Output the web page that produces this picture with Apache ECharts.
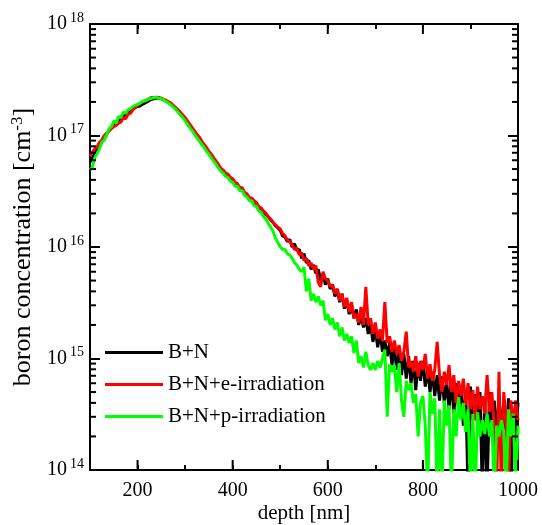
<!DOCTYPE html>
<html>
<head>
<meta charset="utf-8">
<script src="https://cdn.jsdelivr.net/npm/echarts@6/dist/echarts.min.js"></script>
<style>html,body{margin:0;padding:0;background:#fff}#c{width:542px;height:525px}</style>
</head>
<body>
<div id="c"></div>
<script>
const depth = [100,105,110,115,120,125,130,135,140,145,150,155,160,165,170,175,180,185,190,195,200,205,210,215,220,225,230,235,240,245,250,255,260,265,270,275,280,285,290,295,300,305,310,315,320,325,330,335,340,345,350,355,360,365,370,375,380,385,390,395,400,405,410,415,420,425,430,435,440,445,450,455,460,465,470,475,480,485,490,495,500,505,510,515,520,525,530,535,540,545,550,555,560,565,570,575,580,585,590,595,600,605,610,615,620,625,630,635,640,645,650,655,660,665,670,675,680,685,690,695,700,705,710,715,720,725,730,735,740,745,750,755,760,765,770,775,780,785,790,795,800,805,810,815,820,825,830,835,840,845,850,855,860,865,870,875,880,885,890,895,900,905,910,915,920,925,930,935,940,945,950,955,960,965,970,975,980,985,990,995,1000];

const bn = [5.8e16,6.3e16,6.9e16,7.4e16,8.1e16,8.9e16,9.5e16,1.02e17,1.12e17,1.17e17,
1.26e17,1.32e17,1.38e17,1.41e17,1.48e17,1.55e17,1.58e17,1.66e17,1.74e17,1.78e17,
1.82e17,1.84e17,1.90e17,1.95e17,2.0e17,2.07e17,2.11e17,2.14e17,2.16e17,2.16e17,
2.14e17,2.09e17,2.04e17,2.0e17,1.93e17,1.84e17,1.76e17,1.68e17,1.58e17,1.50e17,
1.41e17,1.32e17,1.23e17,1.15e17,1.07e17,1.0e17,9.4e16,8.7e16,8.1e16,7.6e16,
7.1e16,6.6e16,6.2e16,5.8e16,5.4e16,5.0e16,4.8e16,4.6e16,4.4e16,4.2e16,
4.0e16,3.7e16,3.6e16,3.4e16,3.3e16,3.0e16,2.95e16,2.75e16,2.7e16,2.5e16,
2.45e16,2.24e16,2.2e16,2.05e16,1.95e16,1.86e16,1.74e16,1.66e16,1.55e16,1.48e16,
1.41e16,1.26e16,1.23e16,1.12e16,1.17e16,1.0e16,1.07e16,9.3e15,9.5e15,7.9e15,
8.7e15,7.2e15,7.6e15,6.3e15,6.9e15,5.8e15,6.3e15,5.0e15,5.8e15,4.6e15,
5.2e15,4.2e15,4.6e15,3.6e15,4.2e15,3.2e15,3.8e15,2.8e15,3.3e15,2.5e15,
3.0e15,2.3e15,2.75e15,2.0e15,2.4e15,1.9e15,2.3e15,1.66e15,2.0e15,1.41e15,
1.82e15,1.26e15,1.74e15,1.15e15,1.45e15,1.05e15,1.38e15,8.7e14,1.26e15,7.9e14,
1.15e15,7.1e14,1.10e15,6.6e14,1.05e15,6.0e14,9.5e14,5.2e14,9.1e14,6.3e14,
9.5e14,5.6e14,7.9e14,5.0e14,7.6e14,4.6e14,7.1e14,4.2e14,6.9e14,4.0e14,
6.3e14,3.5e14,6.6e14,3.2e14,6.0e14,3.5e14,5.6e14,2.5e14,5.2e14,6.3e13,
5.6e14,2.8e14,4.8e14,2.5e14,5.0e14,6.3e13,4.5e14,6.3e13,5.0e14,2.2e14,
4.2e14,2.0e14,4.6e14,2.2e14,4.0e14,2.0e14,4.4e14,6.3e13,3.5e14,1.8e14,
4.0e14];

const bnE = [6.5e16,7.1e16,7.6e16,7.9e16,8.7e16,9.1e16,1.0e17,1.05e17,1.10e17,1.15e17,
1.20e17,1.23e17,1.29e17,1.32e17,1.45e17,1.41e17,1.55e17,1.58e17,1.70e17,1.78e17,
1.86e17,1.93e17,2.0e17,2.04e17,2.09e17,2.16e17,2.19e17,2.19e17,2.21e17,2.19e17,
2.16e17,2.11e17,2.07e17,2.0e17,1.95e17,1.86e17,1.78e17,1.70e17,1.62e17,1.53e17,
1.45e17,1.35e17,1.26e17,1.17e17,1.10e17,1.02e17,9.7e16,8.9e16,8.3e16,7.8e16,
7.2e16,6.8e16,6.3e16,5.9e16,5.5e16,5.1e16,4.9e16,4.6e16,4.5e16,4.2e16,
4.1e16,3.8e16,3.7e16,3.4e16,3.4e16,3.1e16,3.0e16,2.75e16,2.75e16,2.6e16,
2.5e16,2.3e16,2.24e16,2.1e16,2.0e16,1.86e16,1.78e16,1.66e16,1.58e16,1.51e16,
1.45e16,1.32e16,1.26e16,1.15e16,1.12e16,1.05e16,9.5e15,9.8e15,8.5e15,8.9e15,
7.6e15,7.9e15,6.8e15,7.2e15,6.3e15,6.8e15,4.8e15,4.4e15,6.0e15,5.2e15,
5.0e15,4.4e15,4.6e15,3.8e15,4.2e15,3.3e15,3.8e15,2.9e15,3.5e15,2.6e15,
3.2e15,2.3e15,2.5e15,2.1e15,2.9e15,2.0e15,4.4e15,2.0e15,2.3e15,1.66e15,
2.1e15,1.51e15,1.82e15,1.45e15,3.2e15,1.38e15,1.58e15,1.15e15,1.45e15,1.10e15,
1.32e15,9.5e14,1.15e15,1.74e15,8.3e14,9.5e14,7.6e14,1.05e15,6.9e14,9.5e14,
7.9e14,1.10e15,6.6e14,8.9e14,6.3e14,7.9e14,1.41e15,7.1e14,5.0e14,7.6e14,
5.8e14,8.7e14,5.0e14,7.1e14,4.0e14,6.3e14,4.6e14,6.6e14,3.8e14,6.0e14,
3.5e14,5.2e14,2.8e14,5.6e14,3.5e14,4.6e14,3.2e14,7.1e14,3.3e14,5.0e14,
2.5e14,6.3e13,7.6e14,6.3e13,5.0e14,2.8e14,6.3e13,4.2e14,2.5e14,4.2e14,
2.8e14];

const bnP = [4.9e16,5.2e16,6.3e16,6.9e16,7.6e16,8.7e16,9.1e16,1.02e17,1.15e17,1.20e17,
1.35e17,1.29e17,1.48e17,1.45e17,1.62e17,1.58e17,1.70e17,1.74e17,1.82e17,1.86e17,
1.90e17,1.95e17,2.02e17,2.04e17,2.09e17,2.14e17,2.16e17,2.19e17,2.19e17,2.16e17,
2.14e17,2.09e17,2.02e17,1.95e17,1.88e17,1.80e17,1.72e17,1.62e17,1.53e17,1.45e17,
1.35e17,1.26e17,1.17e17,1.10e17,1.02e17,9.5e16,8.9e16,8.3e16,7.8e16,7.2e16,
6.8e16,6.3e16,5.9e16,5.5e16,5.1e16,4.8e16,4.6e16,4.3e16,4.2e16,3.9e16,
3.8e16,3.5e16,3.5e16,3.2e16,3.2e16,2.9e16,2.8e16,2.6e16,2.6e16,2.35e16,
2.3e16,2.1e16,2.05e16,1.86e16,1.78e16,1.62e16,1.51e16,1.38e16,1.20e16,1.10e16,
1.0e16,9.5e15,9.5e15,8.7e15,8.5e15,7.9e15,7.2e15,6.9e15,6.3e15,6.0e15,
6.6e15,4.0e15,5.2e15,3.3e15,3.8e15,3.2e15,3.6e15,3.0e15,3.3e15,2.2e15,
2.5e15,2.0e15,2.3e15,1.82e15,2.1e15,1.58e15,1.9e15,1.45e15,1.66e15,1.38e15,
1.58e15,1.12e15,1.45e15,9.1e14,1.05e15,8.3e14,1.15e15,8.7e14,7.9e14,9.1e14,
7.9e14,9.5e14,8.3e14,1.0e15,1.20e15,3.0e14,8.9e14,7.6e14,8.7e14,5.0e14,
9.1e14,4.2e14,3.0e14,6.3e14,5.2e14,6.0e14,4.0e14,4.8e14,2.0e14,4.0e14,
4.6e14,2.5e14,6.3e13,5.0e14,3.2e14,4.4e14,6.3e13,3.5e14,6.3e13,4.2e14,
2.5e14,3.8e14,6.3e13,3.5e14,2.0e14,4.5e14,2.8e14,4.0e14,2.2e14,3.5e14,
6.3e13,3.2e14,6.3e13,3.3e14,2.0e14,2.8e14,2.1e14,3.2e14,2.0e14,2.8e14,
6.3e13,2.5e14,2.0e14,2.8e14,2.2e14,6.3e13,3.5e14,2.0e14,3.2e14,6.3e13,
2.5e14];

const seriesNames = ['B+N', 'B+N+e-irradiation', 'B+N+p-irradiation'];
const xTickLabels = [200, 400, 600, 800, 1000];
const yDecades = [1e14, 1e15, 1e16, 1e17, 1e18];
const yMinorTicks = [2e14,3e14,4e14,5e14,6e14,7e14,8e14,9e14,
  2e15,3e15,4e15,5e15,6e15,7e15,8e15,9e15,
  2e16,3e16,4e16,5e16,6e16,7e16,8e16,9e16,
  2e17,3e17,4e17,5e17,6e17,7e17,8e17,9e17];

const FONT = '"Liberation Serif", "Times New Roman", serif';
const pair = (arr) => depth.map((d, i) => [d, arr[i]]);

const chart = echarts.init(document.getElementById('c'), null, {renderer: 'canvas'});

const axisLineStyle = {color: '#000', width: 2};
const xBase = {
  type: 'value', min: 100, max: 1000, interval: 100,
  splitLine: {show: false},
  axisLine: {show: true, onZero: false, lineStyle: axisLineStyle},
  axisTick: {show: true, inside: true, length: 5, lineStyle: {color: '#000', width: 2}}
};
const yBase = {
  type: 'log', logBase: 10, min: 1e14, max: 1e18, splitNumber: 4,
  splitLine: {show: false},
  axisLine: {show: true, onZero: false, lineStyle: axisLineStyle},
  axisTick: {show: true, inside: true, length: 10, lineStyle: {color: '#000', width: 2}}
};

const option = {
  animation: false,
  backgroundColor: '#fff',
  grid: {left: 90, right: 24, top: 24, bottom: 55, containLabel: false, outerBoundsMode: 'none'},
  legend: {
    orient: 'vertical', left: 105, top: 342, padding: 0,
    icon: 'rect', itemWidth: 58, itemHeight: 3, itemGap: 11,
    data: seriesNames,
    textStyle: {fontFamily: FONT, fontSize: 21, color: '#000'}
  },
  xAxis: [
    Object.assign({}, xBase, {
      position: 'bottom',
      name: 'depth [nm]', nameLocation: 'middle', nameGap: 33, nameMoveOverlap: false,
      nameTextStyle: {fontFamily: FONT, fontSize: 21, color: '#000'},
      axisLabel: {
        show: true, margin: 11, color: '#000', fontFamily: FONT, fontSize: 20,
        showMinLabel: true, showMaxLabel: true,
        formatter: (v) => xTickLabels.indexOf(v) >= 0 ? String(v) : ''
      }
    }),
    Object.assign({}, xBase, {position: 'top', axisLabel: {show: false}})
  ],
  yAxis: [
    Object.assign({}, yBase, {
      position: 'left',
      name: '{a|boron concentration [cm}{s|-3}{a|]}', nameLocation: 'middle', nameGap: 53,
      nameRotate: 90, nameMoveOverlap: false,
      nameTextStyle: {
        rich: {
          a: {fontFamily: FONT, fontSize: 26, color: '#000', lineHeight: 28},
          s: {fontFamily: FONT, fontSize: 17, color: '#000', verticalAlign: 'top', lineHeight: 17}
        }
      },
      axisLabel: {
        show: true, margin: 6, showMinLabel: true, showMaxLabel: true,
        formatter: (v) => {
          const e = Math.round(Math.log10(v));
          return '{b|10}{s|' + e + '}';
        },
        rich: {
          b: {fontFamily: FONT, fontSize: 20, color: '#000', lineHeight: 26},
          s: {fontFamily: FONT, fontSize: 14, color: '#000', verticalAlign: 'top', lineHeight: 14, padding: [0, 0, 0, 3]}
        }
      }
    }),
    Object.assign({}, yBase, {position: 'right', axisLabel: {show: false}})
  ],
  series: [
    {
      name: seriesNames[0], type: 'line', data: pair(bn), showSymbol: false, symbol: 'none',
      lineStyle: {color: '#000000', width: 3}, itemStyle: {color: '#000000'}, clip: true, z: 2
    },
    {
      name: seriesNames[1], type: 'line', data: pair(bnE), showSymbol: false, symbol: 'none',
      lineStyle: {color: '#ff0000', width: 3}, itemStyle: {color: '#ff0000'}, clip: true, z: 3
    },
    {
      name: seriesNames[2], type: 'line', data: pair(bnP), showSymbol: false, symbol: 'none',
      lineStyle: {color: '#00ff00', width: 3}, itemStyle: {color: '#00ff00'}, clip: true, z: 4
    },
    {
      type: 'custom', silent: true, z: 5,
      data: yMinorTicks.map(v => [1000, v]),
      encode: {x: 0, y: 1},
      renderItem: (params, api) => {
        const v = api.value(1);
        const p = api.coord([100, v]);
        const q = api.coord([1000, v]);
        return {type: 'group', children: [
          {type: 'line', shape: {x1: p[0], y1: p[1], x2: p[0] + 6, y2: p[1]}, style: {stroke: '#000', lineWidth: 2}},
          {type: 'line', shape: {x1: q[0], y1: q[1], x2: q[0] - 6, y2: q[1]}, style: {stroke: '#000', lineWidth: 2}}
        ]};
      }
    },
    {
      type: 'custom', silent: true, z: 5,
      data: xTickLabels.map(v => [v, 1e16]),
      encode: {x: 0, y: 1},
      renderItem: (params, api) => {
        const v = api.value(0);
        const p = api.coord([v, 1e14]);
        const q = api.coord([v, 1e18]);
        return {type: 'group', children: [
          {type: 'line', shape: {x1: p[0], y1: p[1], x2: p[0], y2: p[1] - 10}, style: {stroke: '#000', lineWidth: 2}},
          {type: 'line', shape: {x1: q[0], y1: q[1], x2: q[0], y2: q[1] + 10}, style: {stroke: '#000', lineWidth: 2}}
        ]};
      }
    }
  ]
};
chart.setOption(option);
</script>
</body>
</html>
